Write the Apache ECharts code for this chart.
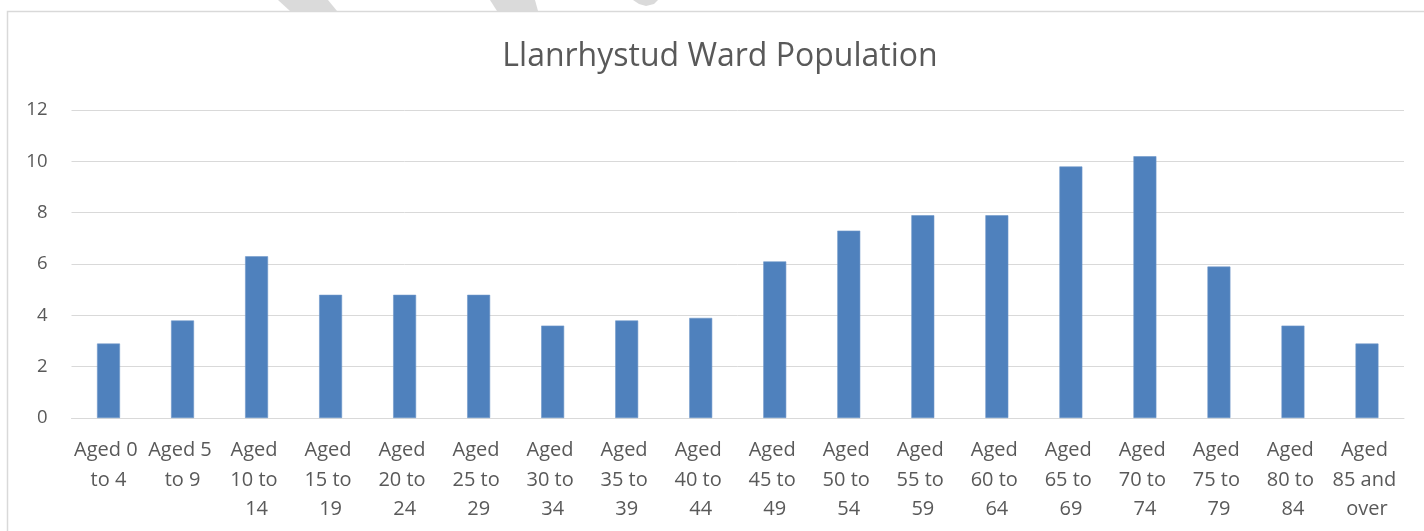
<!DOCTYPE html>
<html>
<head>
<meta charset="utf-8">
<script src="https://cdn.jsdelivr.net/npm/echarts@6/dist/echarts.min.js"></script>
<style>
html,body{margin:0;padding:0;background:#fff;}
#chart{width:1424px;height:531px;}
</style>
</head>
<body>
<div id="chart"></div>
<script>
const titleText = 'Llanrhystud Ward Population';
const categories = ['Aged 0 to 4','Aged 5 to 9','Aged 10 to 14','Aged 15 to 19','Aged 20 to 24','Aged 25 to 29','Aged 30 to 34','Aged 35 to 39','Aged 40 to 44','Aged 45 to 49','Aged 50 to 54','Aged 55 to 59','Aged 60 to 64','Aged 65 to 69','Aged 70 to 74','Aged 75 to 79','Aged 80 to 84','Aged 85 and over'];
const values = [2.9, 3.8, 6.3, 4.8, 4.8, 4.8, 3.6, 3.8, 3.9, 6.1, 7.3, 7.9, 7.9, 9.8, 10.2, 5.9, 3.6, 2.9];
const yTicks = [0, 2, 4, 6, 8, 10, 12];

const chart = echarts.init(document.getElementById('chart'), null, {renderer: 'canvas'});
const font = '"Open Sans", "Noto Sans", sans-serif';
chart.setOption({
  backgroundColor: '#fff',
  animation: false,
  title: {
    text: titleText,
    left: 715,
    textAlign: 'center',
    top: 36,
    textStyle: {fontFamily: font, fontSize: 32, fontWeight: 'normal', color: '#595959'}
  },
  graphic: [
    {type: 'polygon', silent: true, shape: {points: [[278,0],[328,0],[337,11],[290,11]]}, style: {fill: '#dadada'}},
    {type: 'polygon', silent: true, shape: {points: [[490,0],[535,0],[538,11],[497,11]]}, style: {fill: '#dadada'}},
    {type: 'polygon', silent: true, shape: {points: [[633,0],[658,0],[654,4],[646,6],[639,4]]}, style: {fill: '#dadada'}},
    {type: 'rect', silent: true, shape: {x: 7.5, y: 11.5, width: 1430, height: 540}, style: {fill: 'none', stroke: '#d9d9d9', lineWidth: 1.5}}
  ],
  grid: {left: 71.5, right: 20, top: 110, bottom: 113, containLabel: false},
  xAxis: {
    type: 'category',
    data: categories,
    axisLine: {show: true, lineStyle: {color: '#d9d9d9', width: 1}},
    axisTick: {show: false},
    axisLabel: {
      interval: 0,
      margin: 18,
      fontFamily: font,
      fontSize: 20,
      color: '#595959',
      width: 73,
      overflow: 'break',
      lineHeight: 29.5,
      align: 'center'
    }
  },
  yAxis: {
    type: 'value',
    min: yTicks[0],
    max: yTicks[yTicks.length - 1],
    interval: yTicks[1] - yTicks[0],
    axisLine: {show: false},
    axisTick: {show: false},
    splitLine: {lineStyle: {color: '#d9d9d9', width: 1}},
    axisLabel: {margin: 24, fontFamily: font, fontSize: 18.5, color: '#595959'}
  },
  series: [{
    type: 'bar',
    data: values,
    barWidth: '31%',
    itemStyle: {color: '#4f81bd', borderColor: '#6f97c9', borderWidth: 0.6}
  }]
});
</script>
</body>
</html>
